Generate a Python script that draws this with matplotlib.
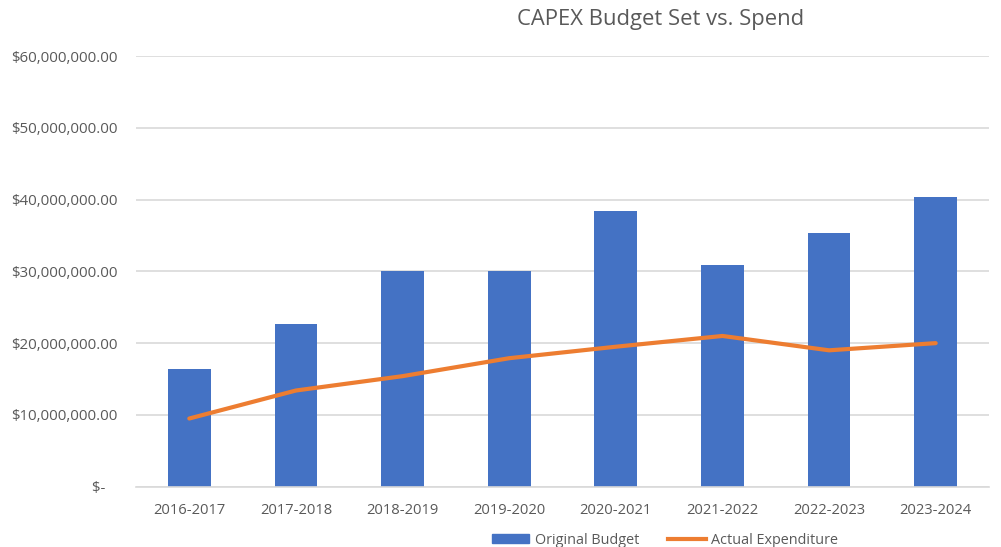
import matplotlib.pyplot as plt
import numpy as np
from matplotlib.ticker import FuncFormatter
from matplotlib.lines import Line2D
from matplotlib.patches import Patch

years = ["2016-2017", "2017-2018", "2018-2019", "2019-2020",
         "2020-2021", "2021-2022", "2022-2023", "2023-2024"]
original_budget = [16.4e6, 22.7e6, 30.0e6, 30.0e6, 38.4e6, 30.9e6, 35.3e6, 40.3e6]
actual_expenditure = [9.5e6, 13.4e6, 15.4e6, 17.9e6, 19.5e6, 21.0e6, 19.0e6, 20.0e6]

plt.rcParams["font.family"] = ["Open Sans", "DejaVu Sans"]
grey = "#595959"
blue = "#4472C4"
orange = "#ED7D31"

fig = plt.figure(figsize=(10.01, 5.47), dpi=100)
ax = fig.add_axes([136 / 1001, 60.3 / 547, 853 / 1001, 430.7 / 547])

x = np.arange(len(years))
ax.bar(x, original_budget, width=0.4, color=blue, zorder=2)
ax.plot(x, actual_expenditure, color=orange, lw=3, solid_capstyle="round", zorder=3)

ax.set_xlim(-0.5, len(years) - 0.5)
ax.set_ylim(0, 60e6)
ax.set_yticks(np.arange(0, 60e6 + 1, 10e6))


def money(v, pos):
    if v == 0:
        return "$-   "
    return f"${v:,.2f}"


ax.yaxis.set_major_formatter(FuncFormatter(money))
ax.set_xticks(x)
ax.set_xticklabels(years)
ax.tick_params(axis="y", length=0, colors=grey, labelsize=10.8, pad=13.5)
ax.tick_params(axis="x", length=0, colors=grey, labelsize=10.6, pad=11.5)
ax.grid(axis="y", color="#D9D9D9", lw=1.2, zorder=0)
for s in ["top", "right", "left"]:
    ax.spines[s].set_visible(False)
ax.spines["bottom"].set_color("#D9D9D9")
ax.spines["bottom"].set_linewidth(1.2)

fig.text(661 / 1001, 1 - 20 / 547, "CAPEX Budget Set vs. Spend",
         ha="center", va="center", fontsize=15.8, color=grey)

handles = [Patch(color=blue, label="Original Budget"),
           Line2D([0], [0], color=orange, lw=3, label="Actual Expenditure")]
fig.legend(handles=handles, loc="center", bbox_to_anchor=(665 / 1001, 1 - 540 / 547),
           ncol=2, frameon=False, fontsize=10.4, labelcolor=grey,
           handlelength=2.6, handleheight=0.6, columnspacing=2.0, handletextpad=0.4)

fig.savefig("out.png", dpi=100)
